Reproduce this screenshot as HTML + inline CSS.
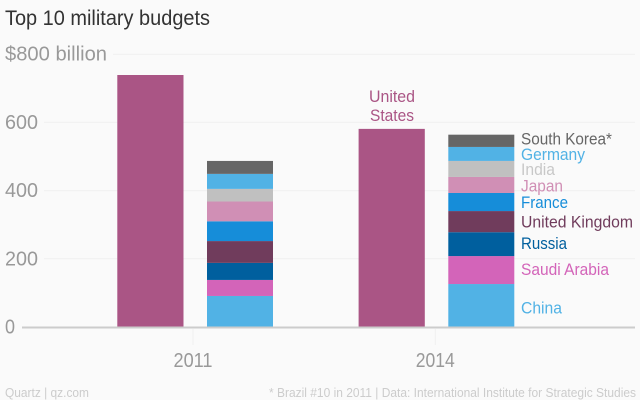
<!DOCTYPE html>
<html lang="en">
<head>
<meta charset="utf-8">
<title>Top 10 military budgets</title>
<style>
html,body{margin:0;padding:0;background:#fafafa;}
svg{display:block;font-family:"Liberation Sans",sans-serif;}
</style>
</head>
<body>
<svg id="chart" xmlns="http://www.w3.org/2000/svg" width="640" height="400" viewBox="0 0 640 400">
<rect x="0" y="0" width="640" height="400" fill="#fafafa"/>
<text x="5" y="25" font-size="21" fill="#333333" textLength="205" lengthAdjust="spacingAndGlyphs">Top 10 military budgets</text>
<g id="grid"></g>
<g id="bars"></g>
<g id="axis"></g>
<g id="labels"></g>
<text x="5" y="397" font-size="13" fill="#cccccc" textLength="84" lengthAdjust="spacingAndGlyphs">Quartz | qz.com</text>
<text x="269" y="397" font-size="13" fill="#cccccc" textLength="367" lengthAdjust="spacingAndGlyphs">* Brazil #10 in 2011 | Data: International Institute for Strategic Studies</text>
</svg>
<script>
const years = ['2011', '2014'];
const usValues = [739, 581];
const categories = ['China', 'Saudi Arabia', 'Russia', 'United Kingdom', 'France', 'Japan', 'India', 'Germany', 'South Korea*'];
const values2011 = [91, 47, 50, 64, 58, 58, 37, 44, 38];
const values2014 = [126, 82, 70, 62, 53, 47, 47, 41, 36];
const yTicks = [0, 200, 400, 600, 800];
const yTickLabels = ['0', '200', '400', '600', '$800 billion'];

const stackColors = ['#51b2e5', '#d364b9', '#005f9e', '#703c5c', '#168dd9', '#d08fb5', '#c0c0c0', '#51b2e5', '#666666'];
const labelColors = ['#51b2e5', '#d364b9', '#005f9e', '#703c5c', '#168dd9', '#d08fb5', '#c8c8c8', '#51b2e5', '#666666'];
const labelWidths = [41, 88, 46, 112, 47, 42, 34, 64, 91];
const labelNudges = [8, 5, 5, 6, 6, 6.5, 6, 6, 3.5];

const NS = 'http://www.w3.org/2000/svg';
function y(v) { return 327 - v * 0.341; }
function groupX(i) { return 195.3 + i * 241.3; }
function tickX(i) { return 193 + i * 242.3; }
function make(parent, tag, attrs, text) {
  const el = document.createElementNS(NS, tag);
  for (const k in attrs) el.setAttribute(k, attrs[k]);
  if (text !== undefined) el.textContent = text;
  document.getElementById(parent).appendChild(el);
  return el;
}

const tickWidths = [10, 33, 33, 33, 102];
yTicks.forEach(function (t, i) {
  if (t > 0) {
    const startX = i === 4 ? 113 : 44;
    const line = make('grid', 'line', { x1: startX, x2: 635, y1: y(t), y2: y(t), stroke: '#f0f0f0', 'stroke-width': 1 });
    
    
  }
  const label = make('axis', 'text', { x: 5, y: y(t) + 6.5, 'font-size': 20, fill: '#999999', textLength: tickWidths[i], lengthAdjust: 'spacingAndGlyphs' }, yTickLabels[i]);
  
  
});

const baseline = make('axis', 'line', { x1: 22, x2: 635, y1: y(0) + 0.5, y2: y(0) + 0.5, stroke: '#cccccc', 'stroke-width': 2 });



years.forEach(function (yr, i) {
  const tick = make('axis', 'line', { x1: tickX(i), x2: tickX(i), y1: 329, y2: 345, stroke: '#f0f0f0', 'stroke-width': 1 });
  
  
  const lab = make('axis', 'text', { x: tickX(i), y: 367, 'font-size': 20, fill: '#999999', 'text-anchor': 'middle', textLength: 39, lengthAdjust: 'spacingAndGlyphs' }, yr);
  
  

  const us = make('bars', 'rect', { x: groupX(i) - 78, y: y(usValues[i]), width: 66.2, height: y(0) - y(usValues[i]), fill: '#aa5585' });
  
  

  const vals = i === 0 ? values2011 : values2014;
  let cum = 0;
  vals.forEach(function (v, c) {
    const seg = make('bars', 'rect', { x: groupX(i) + 11.7, y: y(cum + v), width: 66, height: y(cum) - y(cum + v), fill: stackColors[c] });
    
    
    if (i === years.length - 1) {
      const mid = (y(cum) + y(cum + v)) / 2;
      const t = make('labels', 'text', { x: 521, y: mid + labelNudges[c], 'font-size': 17, fill: labelColors[c], textLength: labelWidths[c], lengthAdjust: 'spacingAndGlyphs' }, categories[c]);
      
      
    }
    cum += v;
  });
});

const usLast = y(usValues[usValues.length - 1]);
const usLine1 = make('labels', 'text', { x: 392, y: usLast - 27, 'font-size': 17, fill: '#aa5585', 'text-anchor': 'middle', textLength: 46, lengthAdjust: 'spacingAndGlyphs' }, 'United');


const usLine2 = make('labels', 'text', { x: 392, y: usLast - 8, 'font-size': 17, fill: '#aa5585', 'text-anchor': 'middle', textLength: 44, lengthAdjust: 'spacingAndGlyphs' }, 'States');


</script>
</body>
</html>
